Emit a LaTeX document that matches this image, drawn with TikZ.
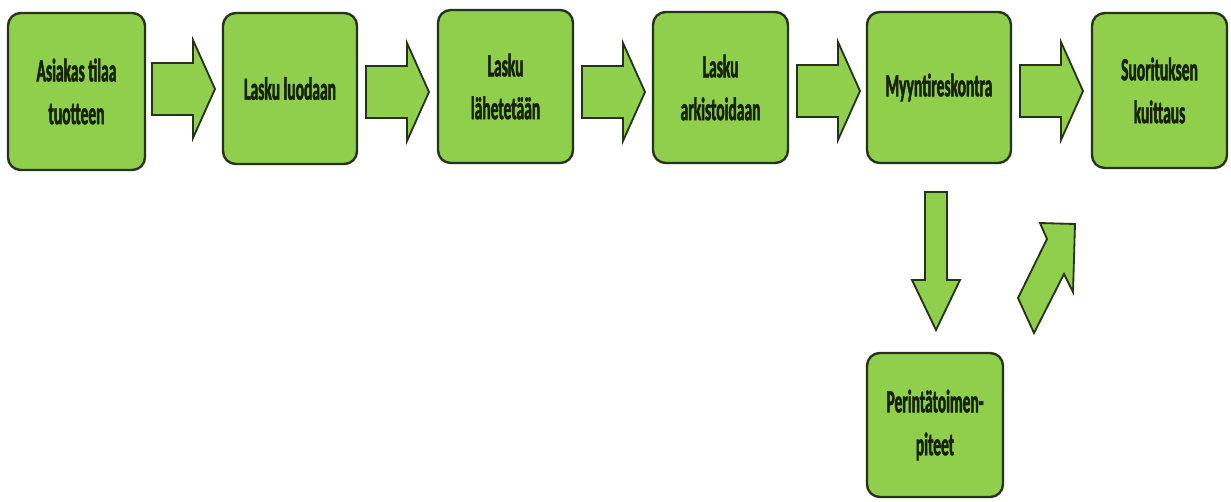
\documentclass[tikz,border=0pt]{standalone}
\usepackage{fontspec}
\newfontfamily\boxfont{Carlito}[FakeStretch=0.48,FakeBold=1.5]
\definecolor{boxgreen}{HTML}{8FCF4C}
\definecolor{boxline}{HTML}{26331A}
\definecolor{txt}{HTML}{16200A}
\begin{document}
\begin{tikzpicture}[x=0.025cm,y=-0.025cm,
  box/.style={draw=boxline, line width=1.7pt, fill=boxgreen, rounded corners=0.32cm,
    align=center, text=txt, inner sep=0pt,
    font=\boxfont\bfseries\fontsize{23}{30.5}\selectfont},
  blk/.style={draw=boxline, line width=1.3pt, fill=boxgreen, line join=miter},
  harrow/.pic={\draw[blk] (0,-26) -- (41,-26) -- (41,-49) -- (63,0) -- (41,49) -- (41,26) -- (0,26) -- cycle;},
  varrow/.pic={\draw[blk] (-11,0) -- (11,0) -- (11,88) -- (24,88) -- (0,138) -- (-24,88) -- (-11,88) -- cycle;}]
\useasboundingbox (0,0) rectangle (1231,501);
\fill[white] (0,0) rectangle (1231,501);

\node[box, minimum width=3.425cm, minimum height=3.925cm] (b1) at (76.5,91.5) {Asiakas tilaa\\tuotteen};
\node[box, minimum width=3.35cm, minimum height=3.775cm] (b2) at (290,88.5) {Lasku luodaan};
\node[box, minimum width=3.375cm, minimum height=3.825cm] (b3) at (505.5,86.5) {Lasku\\lähetetään};
\node[box, minimum width=3.375cm, minimum height=3.775cm] (b4) at (720.5,87.5) {Lasku\\arkistoidaan};
\node[box, minimum width=3.6cm, minimum height=3.775cm] (b5) at (939,87.5) {Myyntireskontra};
\node[box, minimum width=3.375cm, minimum height=3.875cm] (b6) at (1159.5,90.5) {Suorituksen\\kuittaus};
\node[box, minimum width=3.4cm, minimum height=3.6cm] (b7) at (935,425) {Perintätoimen-\\piteet};

\pic at (152,89) {harrow};
\pic at (366,92) {harrow};
\pic at (582,92) {harrow};
\pic at (797,91) {harrow};
\pic at (1020,91) {harrow};
\pic at (936,192) {varrow};
\draw[blk] (1018,298) -- (1047,239) -- (1040,223) -- (1075,224) -- (1073,292) -- (1064,274) -- (1034,333) -- cycle;
\end{tikzpicture}
\end{document}
